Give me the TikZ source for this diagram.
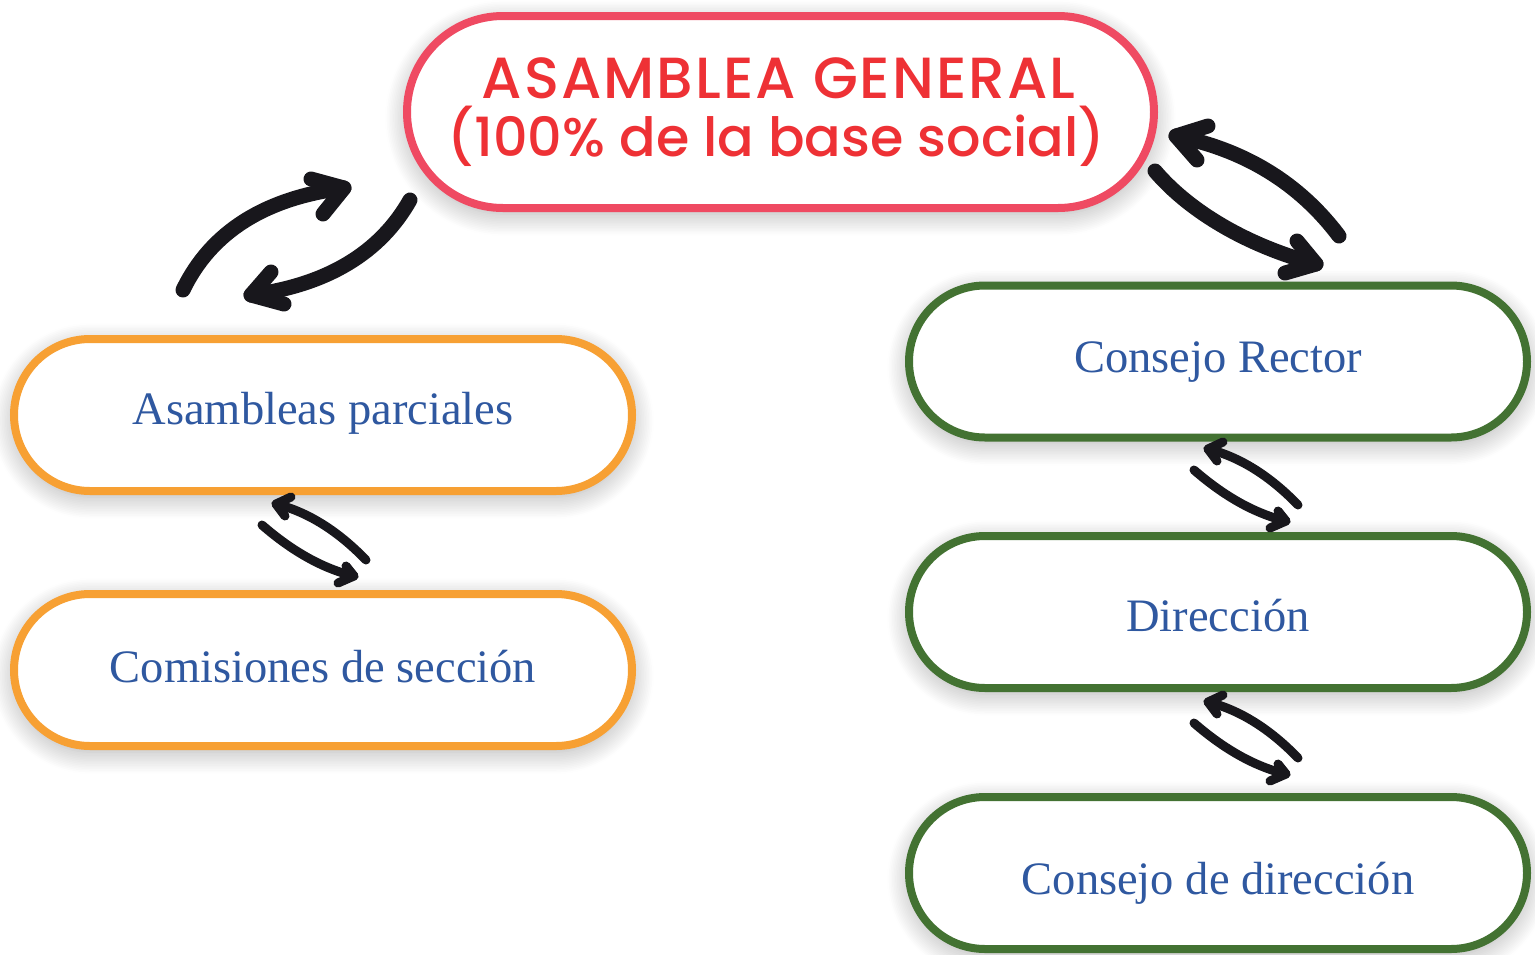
\documentclass[tikz,border=0pt]{standalone}
\usepackage{fontspec}
\setmainfont{Liberation Serif}
\newfontfamily\titlefont{Poppins Medium}
\usetikzlibrary{shapes.misc,shadows.blur}
\definecolor{redbox}{HTML}{EF4A62}
\definecolor{redtext}{HTML}{EE3135}
\definecolor{orangebox}{HTML}{F7A033}
\definecolor{greenbox}{HTML}{437232}
\definecolor{bluetext}{HTML}{2F58A0}
\definecolor{arrowc}{HTML}{18171C}
\newcommand{\lowered}[2]{\raisebox{-#1pt}{#2}}
\begin{document}
\begin{tikzpicture}[x=1pt,y=-1pt,
  box/.style={rounded rectangle, draw, line width=8pt, fill=white, inner sep=0pt,
    minimum width=618pt, minimum height=152pt,
    blur shadow={shadow blur steps=14, shadow xshift=0pt, shadow yshift=-6pt,
      shadow blur radius=22pt, shadow opacity=32}},
  txtbox/.style={box, text=bluetext, text height=34pt, text depth=10pt,
    font=\fontsize{46.5}{54}\selectfont},
  obox/.style={txtbox, draw=orangebox},
  gbox/.style={txtbox, draw=greenbox},
  rbox/.style={box, draw=redbox, minimum width=747pt, minimum height=192pt, text=redtext,
    align=center, font=\titlefont\fontsize{54}{58}\selectfont},
  bigarrow/.style={draw=arrowc, line width=15pt, line cap=round, line join=round},
  smallarrow/.style={draw=arrowc, line width=9pt, line cap=round, line join=round},
  swaparrows/.pic={
    \draw[smallarrow] (366,560) .. controls (338,531) and (308,512) .. (276,504);
    \draw[smallarrow] (291,497) -- (276,504) -- (285,516);
    \draw[smallarrow] (262,525) .. controls (293,552) and (324,569) .. (354,576);
    \draw[smallarrow] (346,566) -- (354,576) -- (338,583);
  }]
\useasboundingbox (0,0) rectangle (1535,954);

\node[rbox] (ag) at (780.5,112) {{\fontsize{58}{58}\selectfont\addfontfeature{LetterSpace=3.5}ASAMBLEA GENERAL}\kern 4pt\\(100\% de la base social)\kern 8pt};
\node[obox] (ap) at (323,415) {\lowered{-3}{Asambleas parciales}};
\node[obox] (cs) at (323,670) {\lowered{0}{Comisiones de sección}};
\node[gbox] (cr) at (1218,361.5) {\lowered{-1}{Consejo Rector}};
\node[gbox] (di) at (1218,612) {\lowered{7}{Dirección}};
\node[gbox] (cd) at (1218,873) {\lowered{9}{Consejo de dirección}};

% big left arrows
\coordinate (a1s) at (183,290); \coordinate (a1c) at (211,232); \coordinate (a1d) at (265,198);
\coordinate (a1t) at (344,188);
\coordinate (a1b1) at (311,179); \coordinate (a1b2) at (323,214);
\draw[bigarrow] (a1s) .. controls (a1c) and (a1d) .. (a1t);
\draw[bigarrow] (a1b1) -- (a1t) -- (a1b2);
\coordinate (a2s) at (410,200); \coordinate (a2c) at (380,253); \coordinate (a2d) at (327,285);
\coordinate (a2t) at (251,295);
\coordinate (a2b1) at (271,272); \coordinate (a2b2) at (284,304);
\draw[bigarrow] (a2s) .. controls (a2c) and (a2d) .. (a2t);
\draw[bigarrow] (a2b1) -- (a2t) -- (a2b2);
% big right arrows
\coordinate (a3s) at (1339,236); \coordinate (a3c) at (1299,183); \coordinate (a3d) at (1245,150);
\coordinate (a3t) at (1176,136);
\coordinate (a3b1) at (1208,126); \coordinate (a3b2) at (1197,160);
\draw[bigarrow] (a3s) .. controls (a3c) and (a3d) .. (a3t);
\draw[bigarrow] (a3b1) -- (a3t) -- (a3b2);
\coordinate (a4s) at (1155,171); \coordinate (a4c) at (1190,212); \coordinate (a4d) at (1248,246);
\coordinate (a4t) at (1316,264);
\coordinate (a4b1) at (1297,241); \coordinate (a4b2) at (1285,273);
\draw[bigarrow] (a4s) .. controls (a4c) and (a4d) .. (a4t);
\draw[bigarrow] (a4b1) -- (a4t) -- (a4b2);

% small swap arrows between stacked boxes
\pic (sw1) at (0,0) {swaparrows};
\pic (sw2) at (932,-55) {swaparrows};
\pic (sw3) at (932,198) {swaparrows};
\end{tikzpicture}
\end{document}
